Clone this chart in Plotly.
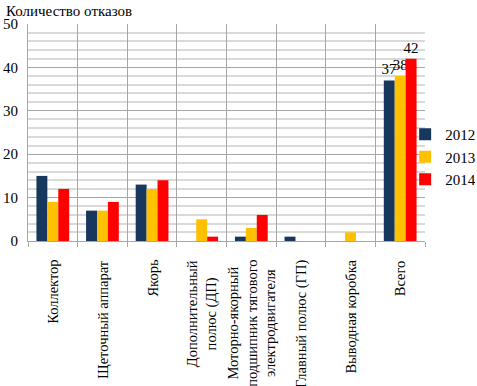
import plotly.graph_objects as go

categories = ["Коллектор", "Щеточный аппарат", "Якорь", "Дополнительный<br>полюс (ДП)",
              "Моторно-якорный<br>подшипник тягового<br>электродвигателя", "Главный полюс (ГП)",
              "Выводная коробка", "Всего"]
v2012 = [15, 7, 13, 0, 1, 1, 0, 37]
v2013 = [9, 7, 12, 5, 3, 0, 2, 38]
v2014 = [12, 9, 14, 1, 6, 0, 0, 42]
years = ["2012", "2013", "2014"]
colors = ["#17375E", "#FFC000", "#FF0000"]
title_text = "Количество отказов"

FONT = "Liberation Serif"

fig = go.Figure()
for name, vals, col in zip(years, [v2012, v2013, v2014], colors):
    labels = [str(v) if c == "Всего" else "" for c, v in zip(categories, vals)]
    fig.add_trace(go.Bar(x=categories, y=vals, name=name, marker=dict(color=col, line=dict(width=0)),
                         text=labels, textposition="outside", cliponaxis=False, constraintext="none",
                         textfont=dict(family=FONT, size=15, color="#000")))

annotations = [dict(text=c, x=c, y=0, xref="x", yref="paper", yanchor="top", xanchor="center",
                    yshift=-17, textangle=-90, showarrow=False, align="center",
                    font=dict(family=FONT, size=14.5, color="#000"))
               for c in categories]
annotations.append(dict(text=title_text, xref="paper", yref="paper", x=-0.06, y=1.0, yshift=13.5,
                        xanchor="left", yanchor="middle", showarrow=False,
                        font=dict(family=FONT, size=15, color="#000")))

fig.update_layout(
    width=490, height=386,
    margin=dict(l=28, r=65, t=24, b=145, autoexpand=False),
    paper_bgcolor="white", plot_bgcolor="white",
    barmode="group", bargap=0.34, bargroupgap=0,
    font=dict(family=FONT, size=15, color="#000"),
    showlegend=True,
    legend=dict(x=0.95, y=0.387, xanchor="left", yanchor="middle",
                font=dict(family=FONT, size=15), itemwidth=30,
                bgcolor="rgba(0,0,0,0)"),
    annotations=annotations,
)
fig.update_yaxes(range=[0, 50], dtick=10, showgrid=True, gridcolor="#A6A6A6", gridwidth=1,
                 minor=dict(dtick=2, showgrid=True, gridcolor="#D9D9D9", gridwidth=1.5),
                 zeroline=False, showline=True, linecolor="#A6A6A6",
                 tickfont=dict(family=FONT, size=15, color="#000"), ticks="", ticklabelstandoff=6)
fig.update_xaxes(tickson="boundaries", showgrid=True, gridcolor="#A6A6A6", gridwidth=1,
                 ticks="outside", ticklen=5, tickcolor="#A6A6A6",
                 showline=True, linecolor="#A6A6A6", mirror=False,
                 showticklabels=False)

fig.write_html("out.html", config={"displayModeBar": False},
               post_script="document.body.style.margin='0';document.body.style.overflow='hidden';")
